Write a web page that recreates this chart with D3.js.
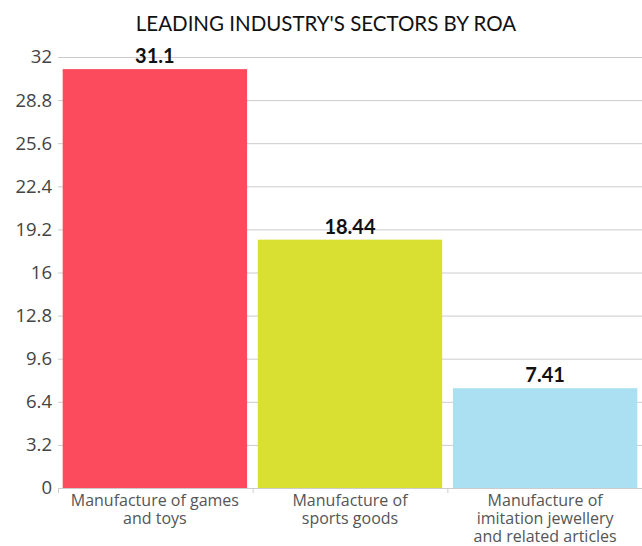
<!DOCTYPE html>
<html><head><meta charset="utf-8">
<script src="https://cdn.jsdelivr.net/npm/d3@7"></script>
<style>body{margin:0;background:#fff}svg{display:block}</style>
</head><body><svg id="c" width="642" height="546"></svg>
<script>
const categories = [["Manufacture of games","and toys"],["Manufacture of","sports goods"],["Manufacture of","imitation jewellery","and related articles"]];
const values = [31.1, 18.44, 7.41];
const labels = ["31.1","18.44","7.41"];
const colors = ["#FC4B5C","#D9E032","#ABE0F2"];
const yTicks = [0,3.2,6.4,9.6,12.8,16,19.2,22.4,25.6,28.8,32];

const svg = d3.select("#c");
const W=642,H=546, m={l:58,r:0,t:57,b:58};
const x = d3.scaleBand().domain(d3.range(values.length)).range([m.l,W-m.r]).paddingInner(0.055).paddingOuter(0.024);
const y = d3.scaleLinear().domain([0,32]).range([H-m.b,m.t]);
const font = "Lato, 'Open Sans', sans-serif";
const font2 = "'Open Sans', sans-serif";

svg.append("text").attr("x",326).attr("y",31).attr("text-anchor","middle")
  .attr("font-family",font).attr("font-size",20.5).attr("fill","#111").text("LEADING INDUSTRY'S SECTORS BY ROA");

const ya = svg.append("g").attr("transform",`translate(${m.l},0)`)
  .call(d3.axisLeft(y).tickValues(yTicks).tickSize(0).tickSizeOuter(0).tickFormat(d=>String(d)));
ya.select(".domain").remove();
ya.selectAll(".tick line").attr("x2",W-m.l).attr("x1",0).attr("stroke","#ccc");
ya.selectAll(".tick text").attr("x",-6).attr("font-family",font2).attr("font-size",18.5).attr("fill","#444");

svg.selectAll("rect.bar").data(values).join("rect").attr("class","bar")
  .attr("x",(d,i)=>x(i)).attr("width",x.bandwidth())
  .attr("y",d=>y(d)).attr("height",d=>y(0)-y(d)).attr("fill",(d,i)=>colors[i]);

svg.selectAll("text.val").data(values).join("text").attr("class","val")
  .attr("x",(d,i)=>x(i)+x.bandwidth()/2).attr("y",d=>y(d)-6).attr("text-anchor","middle")
  .attr("font-family",font).attr("font-weight","bold").attr("font-size",20).attr("fill","#111")
  .text((d,i)=>labels[i]);

// x axis
const bounds = d3.range(values.length+1).map(i=>m.l + i*(W-m.l)/values.length);
svg.append("line").attr("x1",m.l).attr("x2",W).attr("y1",y(0)+0.5).attr("y2",y(0)+0.5).attr("stroke","#ccc");
svg.selectAll("line.xt").data(bounds.slice(0,3)).join("line").attr("class","xt")
  .attr("x1",d=>d+0.5).attr("x2",d=>d+0.5).attr("y1",y(0)).attr("y2",y(0)+5).attr("stroke","#ccc");

const cl = svg.selectAll("text.cat").data(categories).join("text").attr("class","cat")
  .attr("text-anchor","middle").attr("font-family",font2).attr("font-size",16).attr("fill","#555");
cl.each(function(lines,i){
  const t=d3.select(this);
  lines.forEach((s,j)=>t.append("tspan").attr("x",x(i)+x.bandwidth()/2).attr("y",y(0)+17.5+j*18).text(s));
});
</script></body></html>
